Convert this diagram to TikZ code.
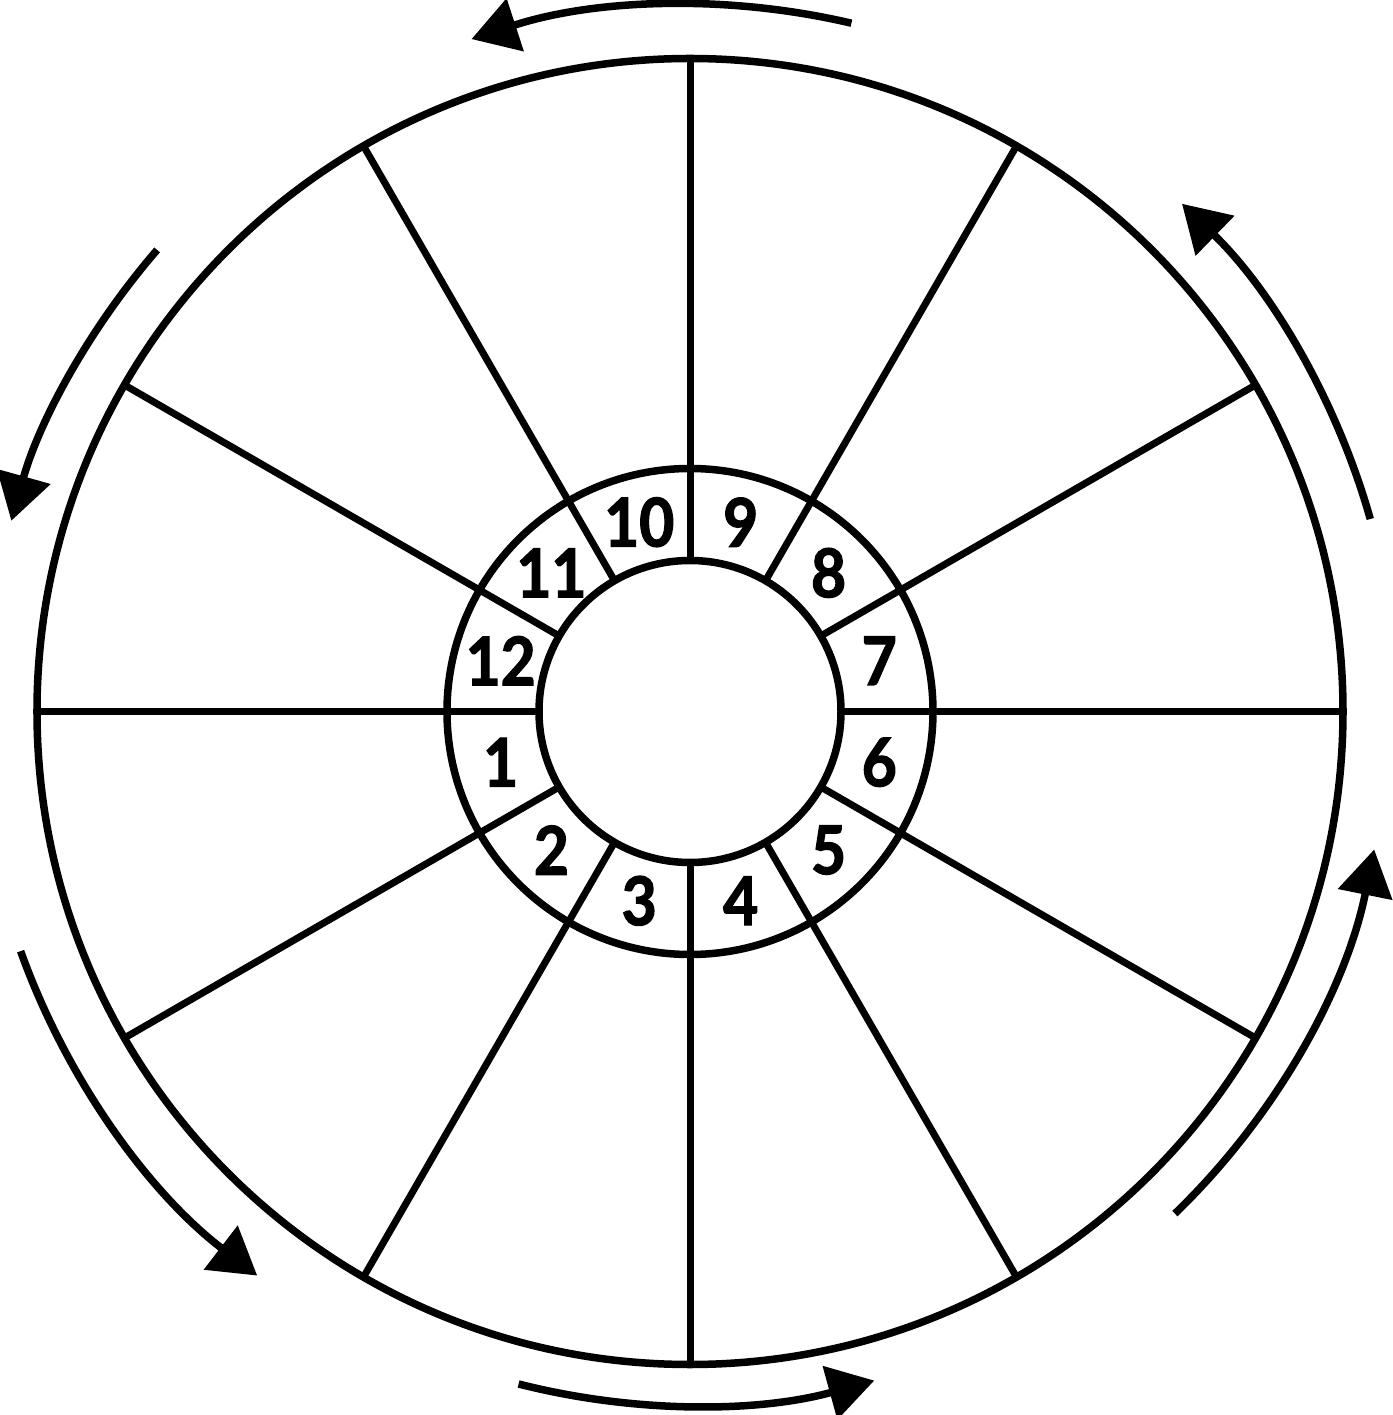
\documentclass[tikz,border=0pt]{standalone}
\usepackage{fontspec}
\newfontfamily\lblfont{Lato}[BoldFeatures={FakeBold=2, FakeStretch=0.9}]
\usetikzlibrary{arrows.meta}
\begin{document}
\begin{tikzpicture}[x=1pt,y=1pt,
  wheel/.style={circle, draw=black, line width=7.5pt, outer sep=0pt, inner sep=0pt},
  spoke/.style={draw=black, line width=7pt},
  flow/.style={draw=black, line width=7.5pt, -{Triangle[length=46pt,width=54pt]}},
  numlabel/.style={font=\lblfont\bfseries\fontsize{67}{67}\selectfont, inner sep=0pt, text=black}]
\useasboundingbox (-690,-703.5) rectangle (702,711.5);
\node[wheel, minimum size=1306pt] (outer) at (0,0) {};
\node[wheel, minimum size=486pt] (ring) at (0,0) {};
\node[wheel, minimum size=302pt] (inner) at (0,0) {};
\foreach \a in {0,30,...,330}
  \draw[spoke] (inner.\a) -- (outer.\a);
\foreach \n/\a in {7/15, 8/45, 9/75, 10/105, 11/135, 12/165, 1/195, 2/225, 3/255, 4/285, 5/315, 6/345}
  \node[numlabel] (lab\n) at (\a:196pt) {\n};
% rotation arrows (counterclockwise)
\draw[flow] (76.8:707pt) arc[start angle=76.8, end angle=108, radius=707pt];
\draw[flow] (15.8:707pt) arc[start angle=15.8, end angle=45.9, radius=707pt];
\draw[flow] (139.1:705pt) arc[start angle=139.1, end angle=164.3, radius=705pt];
\draw[flow] (199.7:711pt) arc[start angle=199.7, end angle=232.5, radius=711pt];
\draw[flow] (255.7:694pt) arc[start angle=255.7, end angle=285.4, radius=694pt];
\draw[flow] (314:698pt) arc[start angle=314, end angle=348.6, radius=698pt];
\end{tikzpicture}
\end{document}
